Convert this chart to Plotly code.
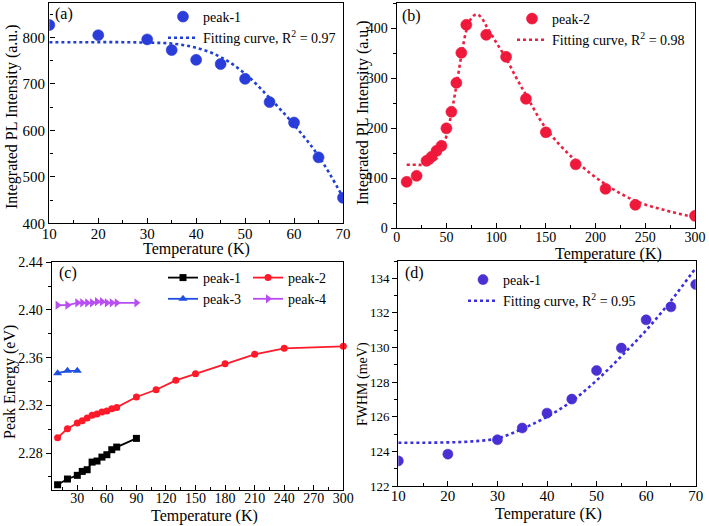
import plotly.graph_objects as go

W, H = 709, 526
FONT = "Liberation Serif"

# ---------------- data ----------------
# (a) integrated PL intensity, peak-1
temp_a = [10, 20, 30, 35, 40, 45, 50, 55, 60, 65, 70]
peak1_a = [827, 805, 796, 773, 752, 743, 711, 661, 617, 542, 455]
fit_temp_a = [10, 15, 20, 25, 30, 35, 40, 45, 50, 55, 60, 65, 70]
fit_a = [790, 790, 790, 790, 789, 787, 778, 758, 722, 670, 612, 545, 456]

# (b) integrated PL intensity, peak-2
temp_b = [10, 20, 30, 35, 40, 45, 50, 55, 60, 65, 70, 90, 110, 130, 150, 180, 210, 240, 300]
peak2_b = [93, 105, 135, 143, 155, 165, 200, 233, 291, 351, 407, 387, 343, 259, 192, 128, 79, 47, 25]
fit_temp_b = [10, 20, 30, 35, 40, 45, 50, 55, 60, 65, 70, 75, 80, 85, 90, 100, 110, 120, 130,
              150, 180, 210, 240, 270, 300]
fit_b = [127, 127, 127, 131, 140, 155, 185, 230, 285, 345, 395, 420, 428, 422, 405, 372, 340,
         302, 267, 200, 135, 88, 55, 36, 22]

# (c) peak energies
temp_c1 = [10, 20, 30, 35, 40, 45, 50, 55, 60, 65, 70, 90]
energy_c1 = [2.2534, 2.2582, 2.2613, 2.2646, 2.2660, 2.2724, 2.2733, 2.2766, 2.2786, 2.2828,
             2.2850, 2.2923]
temp_c2 = [10, 20, 30, 35, 40, 45, 50, 55, 60, 65, 70, 90, 110, 130, 150, 180, 210, 240, 300]
energy_c2 = [2.2929, 2.3004, 2.3052, 2.3071, 2.3094, 2.3116, 2.3127, 2.3144, 2.3152, 2.3172,
             2.3183, 2.3270, 2.3331, 2.3410, 2.3466, 2.3550, 2.3628, 2.3678, 2.3695]
temp_c3 = [10, 20, 30]
energy_c3 = [2.347, 2.349, 2.349]
temp_c4 = [10, 20, 30, 35, 40, 45, 50, 55, 60, 65, 70, 90]
energy_c4 = [2.404, 2.404, 2.406, 2.406, 2.406, 2.406, 2.407, 2.407, 2.406, 2.406, 2.406, 2.406]

# (d) FWHM, peak-1
temp_d = [10, 20, 30, 35, 40, 45, 50, 55, 60, 65, 70]
fwhm_d = [123.45, 123.84, 124.67, 125.35, 126.21, 127.02, 128.67, 129.97, 131.6, 132.35, 133.64]
fit_temp_d = [10, 15, 20, 25, 30, 35, 40, 45, 50, 55, 60, 65, 70]
fit_d = [124.5, 124.5, 124.52, 124.58, 124.75, 125.3, 126.0, 126.9, 128.1, 129.5, 131.0, 132.7, 134.6]

# ---------------- figure ----------------
fig = go.Figure()

def ball(color, size=11):
    return dict(color=color, size=size, symbol="circle", line=dict(width=0.6, color=color))

# (a)
fig.add_trace(go.Scatter(x=temp_a, y=peak1_a, mode="markers", name="peak-1",
                         marker=ball("#2a3ddb"), xaxis="x", yaxis="y", legend="legend"))
fig.add_trace(go.Scatter(x=fit_temp_a, y=fit_a, mode="lines", line_shape="spline",
                         name="Fitting curve, R<sup>2</sup> = 0.97",
                         line=dict(color="#1f3fd6", width=2.6, dash="dot"),
                         xaxis="x", yaxis="y", legend="legend"))
# (b)
fig.add_trace(go.Scatter(x=temp_b, y=peak2_b, mode="markers", name="peak-2",
                         marker=ball("#f0183a"), xaxis="x2", yaxis="y2", legend="legend2"))
fig.add_trace(go.Scatter(x=fit_temp_b, y=fit_b, mode="lines", line_shape="spline",
                         name="Fitting curve, R<sup>2</sup> = 0.98",
                         line=dict(color="#ec1f3f", width=2.6, dash="dot"),
                         xaxis="x2", yaxis="y2", legend="legend2"))
# (c)
fig.add_trace(go.Scatter(x=temp_c1, y=energy_c1, mode="lines+markers", name="peak-1",
                         marker=dict(color="black", size=7, symbol="square"),
                         line=dict(color="black", width=1.8), cliponaxis=False,
                         xaxis="x3", yaxis="y3", legend="legend3"))
fig.add_trace(go.Scatter(x=temp_c3, y=energy_c3, mode="lines+markers", name="peak-3",
                         marker=dict(color="#1f4fe0", size=8, symbol="triangle-up"),
                         line=dict(color="#1f4fe0", width=1.8), cliponaxis=False,
                         xaxis="x3", yaxis="y3", legend="legend3"))
fig.add_trace(go.Scatter(x=temp_c2, y=energy_c2, mode="lines+markers", name="peak-2",
                         marker=dict(color="#ff1a2a", size=7, symbol="circle"),
                         line=dict(color="#ff1a2a", width=1.8), cliponaxis=False,
                         xaxis="x3", yaxis="y3", legend="legend4"))
fig.add_trace(go.Scatter(x=temp_c4, y=energy_c4, mode="lines+markers", name="peak-4",
                         marker=dict(color="#b84ef2", size=8, symbol="triangle-right"),
                         line=dict(color="#b84ef2", width=1.8), cliponaxis=False,
                         xaxis="x3", yaxis="y3", legend="legend4"))
# (d)
fig.add_trace(go.Scatter(x=temp_d, y=fwhm_d, mode="markers", name="peak-1",
                         marker=ball("#4a2fd2", size=10), xaxis="x4", yaxis="y4", legend="legend5"))
fig.add_trace(go.Scatter(x=fit_temp_d, y=fit_d, mode="lines", line_shape="spline",
                         name="Fitting curve, R<sup>2</sup> = 0.95",
                         line=dict(color="#3a2ee0", width=2.6, dash="dot"),
                         xaxis="x4", yaxis="y4", legend="legend5"))

def px_x(a, b):
    return [a / W, b / W]

def px_y(top, bottom):
    return [1 - bottom / H, 1 - top / H]

def axis(domain, anchor, rng, dtick, mdtick, ticks, fs, tick0=None, fmt=None, standoff=0):
    d = dict(domain=domain, anchor=anchor, range=rng, dtick=dtick, automargin=False,
             showline=True, linecolor="black", linewidth=1.4, mirror=True,
             ticks=ticks, ticklen=5, tickwidth=1.2, tickcolor="black",
             showgrid=False, zeroline=False, ticklabelstandoff=standoff,
             tickfont=dict(family=FONT, size=fs, color="black"),
             minor=dict(dtick=mdtick, ticks=ticks, ticklen=3, tickwidth=1, tickcolor="black",
                        showgrid=False))
    if tick0 is not None:
        d["tick0"] = tick0
    if fmt:
        d["tickformat"] = fmt
    return d

leg_font = dict(family=FONT, size=14, color="black")

def legend(xpx, ytop):
    return dict(x=xpx / W, y=1 - ytop / H, xanchor="left", yanchor="top",
                bgcolor="rgba(0,0,0,0)", borderwidth=0, font=leg_font, tracegroupgap=0,
                itemwidth=30)

fig.update_layout(
    template="none",
    width=W, height=H,
    margin=dict(l=0, r=0, t=0, b=0, pad=0),
    paper_bgcolor="white", plot_bgcolor="white",
    font=dict(family=FONT, color="black"),
    xaxis=axis(px_x(49.3, 343), "y", [10, 70], 10, 5, "inside", 15, standoff=-4),
    yaxis=axis(px_y(2.7, 223.3), "x", [400, 875], 100, 50, "inside", 15),
    xaxis2=axis(px_x(396.7, 695), "y2", [0, 300], 50, 25, "inside", 14, standoff=-4),
    yaxis2=axis(px_y(3.3, 228.3), "x2", [0, 450], 100, 50, "outside", 14),
    xaxis3=axis(px_x(51.7, 343.3), "y3", [4, 300], 30, 15, "inside", 14, tick0=0, standoff=-5),
    yaxis3=axis(px_y(262.3, 490), "x3", [2.249, 2.44], 0.04, 0.02, "outside", 14,
                tick0=2.28, fmt=".2f"),
    xaxis4=axis(px_x(398.3, 695.7), "y4", [10, 70], 10, 5, "inside", 15, standoff=-4),
    yaxis4=axis(px_y(261, 486), "x4", [122, 135], 2, 1, "outside", 13),
    legend=legend(163, 1),
    legend2=legend(512, 3),
    legend3=legend(163, 262),
    legend4=legend(248, 262),
    legend5=legend(463, 264),
    showlegend=True,
)

def note(txt, xp, yp, size=16, angle=0, xanchor="center"):
    fig.add_annotation(text=txt, x=xp / W, y=1 - yp / H, xref="paper", yref="paper",
                       xanchor=xanchor, yanchor="middle", showarrow=False, textangle=angle,
                       font=dict(family=FONT, size=size, color="black"))

# panel labels
for txt, xp, yp in [("(a)", 53, 14), ("(b)", 400, 16), ("(c)", 57, 273), ("(d)", 403, 273)]:
    note(txt, xp, yp, xanchor="left")

# axis titles
note("Temperature (K)", 196, 249)
note("Temperature (K)", 608, 254)
note("Temperature (K)", 204, 516)
note("Temperature (K)", 548, 514)
note("Integrated PL Intensity (a.u.)", 12, 117, angle=-90)
note("Integrated PL Intensity (a.u.)", 363, 113, angle=-90)
note("Peak Energy (eV)", 10, 382, angle=-90)
note("FWHM (meV)", 363, 384, size=14, angle=-90)

fig.write_html("out.html",
               config={"displayModeBar": False},
               post_script="document.body.style.margin='0px';"
                           "document.body.style.overflow='hidden';")
